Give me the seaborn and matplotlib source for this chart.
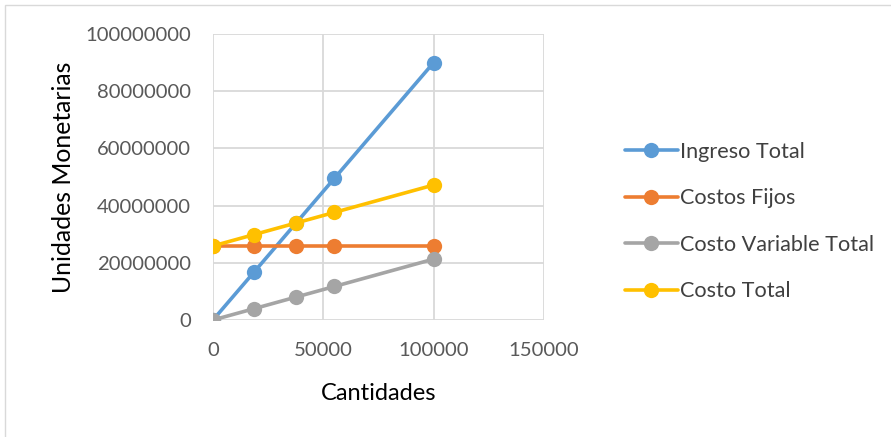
import matplotlib
matplotlib.use("Agg")
import matplotlib.pyplot as plt
import seaborn as sns
import pandas as pd
from matplotlib.patches import Rectangle

# Break-even data
cantidades = [0, 18500, 37500, 55000, 100000]
ingreso_total = [0, 16650000, 33750000, 49500000, 90000000]
costos_fijos = [25900000, 25900000, 25900000, 25900000, 25900000]
costo_variable_total = [0, 3940000, 7990000, 11720000, 21300000]
costo_total = [25900000, 29840000, 33890000, 37620000, 47200000]

series_names = ["Ingreso Total", "Costos Fijos", "Costo Variable Total", "Costo Total"]
series_values = [ingreso_total, costos_fijos, costo_variable_total, costo_total]
colors = ["#5B9BD5", "#ED7D31", "#A5A5A5", "#FFC000"]

x_ticks = [0, 50000, 100000, 150000]
y_ticks = [0, 20000000, 40000000, 60000000, 80000000, 100000000]

rows = []
for name, vals in zip(series_names, series_values):
    for q, v in zip(cantidades, vals):
        rows.append({"Cantidades": q, "Valor": v, "Serie": name})
df = pd.DataFrame(rows)

sns.set_theme(style="white")
plt.rcParams["font.family"] = ["Lato", "DejaVu Sans"]

fig = plt.figure(figsize=(8.91, 4.37), dpi=100)
ax = fig.add_axes([0.239, 0.2677, 0.3715, 0.6545])

sns.lineplot(data=df, x="Cantidades", y="Valor", hue="Serie",
             hue_order=series_names, palette=colors, marker="o",
             markersize=11, markeredgewidth=0, linewidth=2.6, ax=ax,
             legend=False, zorder=3)

ax.set_xlim(0, 150000)
ax.set_ylim(0, 100000000)
ax.set_xticks(x_ticks)
ax.set_yticks(y_ticks)
ax.set_xticklabels([str(t) for t in x_ticks])
ax.set_yticklabels([str(t) for t in y_ticks])
ax.tick_params(axis="both", length=0, labelsize=14.6, labelcolor="#595959")
ax.tick_params(axis="y", pad=16)
ax.tick_params(axis="x", pad=16)
for lbl in ax.get_xticklabels() + ax.get_yticklabels():
    lbl.set_clip_on(False)

ax.grid(True, color="#D9D9D9", linewidth=1.3)
for side in ["top", "right", "left", "bottom"]:
    ax.spines[side].set_visible(False)
ax.set_axisbelow(True)

ax.set_xlabel("Cantidades", fontsize=17, color="#000000", labelpad=17)
ax.set_ylabel("Unidades Monetarias", fontsize=17.8, color="#000000", labelpad=7)

handles = [plt.Line2D([0], [0], color=c, linewidth=2.6, marker="o",
                      markersize=11, markeredgewidth=0) for c in colors]
ax.legend(handles, series_names, loc="center left",
          bbox_to_anchor=(1.185, 0.344), frameon=False, fontsize=15.6,
          handlelength=2.45, handletextpad=0.12, labelspacing=1.22,
          labelcolor="#404040")

fig.patches.append(Rectangle((5 / 891, -0.05), 1.2, 1 - 5 / 437 + 0.05,
                             transform=fig.transFigure, fill=False,
                             edgecolor="#D9D9D9", linewidth=1.0))

fig.savefig("out.png", dpi=100)
